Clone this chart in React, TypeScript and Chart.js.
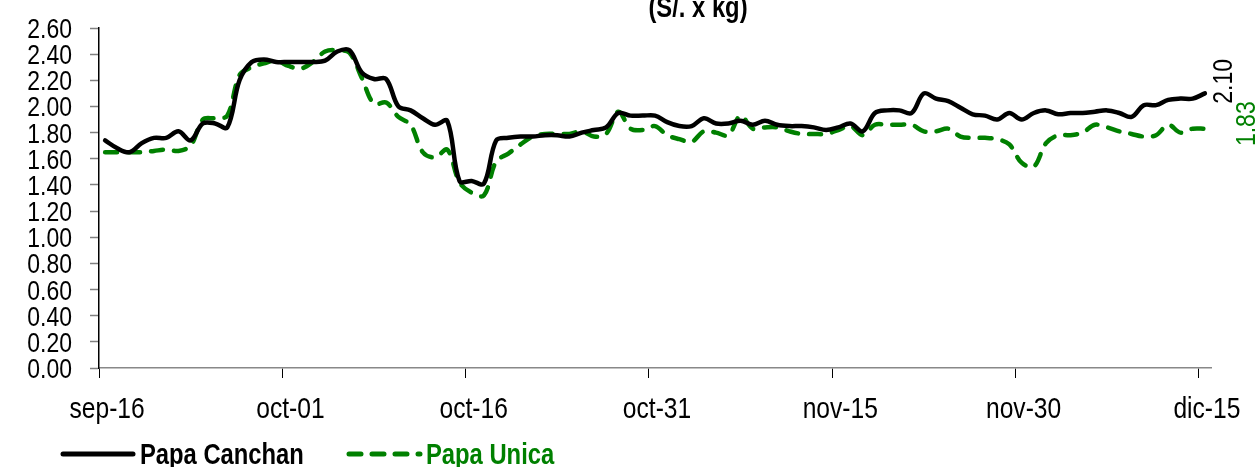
import React, { useEffect, useRef } from "react";
import { Chart, registerables } from "chart.js";
Chart.register(...registerables);

const FONT = "'Liberation Sans', Arial, sans-serif";
const NARROW = 0.82;

const monthSpans: [string, number, number][] = [
  ["sep", 16, 30],
  ["oct", 1, 31],
  ["nov", 1, 30],
  ["dic", 1, 15],
];
const dates: string[] = [];
for (const [m, s, e] of monthSpans) {
  for (let d = s; d <= e; d++) dates.push(`${m}-${String(d).padStart(2, "0")}`);
}
const shownDates = ["sep-16", "oct-01", "oct-16", "oct-31", "nov-15", "nov-30", "dic-15"];

const papaCanchan = [
  1.74, 1.68, 1.65, 1.72, 1.76, 1.76, 1.81, 1.74, 1.87, 1.87,
  1.84, 2.2, 2.34, 2.36, 2.34, 2.34, 2.34, 2.34, 2.35, 2.42,
  2.43, 2.26, 2.21, 2.21, 2.0, 1.97, 1.91, 1.86, 1.89, 1.43,
  1.43, 1.41, 1.74, 1.76, 1.77, 1.77, 1.78, 1.78, 1.77, 1.8,
  1.82, 1.84, 1.95, 1.93, 1.93, 1.93, 1.88, 1.85, 1.85, 1.91,
  1.87, 1.87, 1.89, 1.86, 1.89, 1.86, 1.85, 1.85, 1.84, 1.82,
  1.84, 1.87, 1.81, 1.95, 1.97, 1.97, 1.95, 2.1, 2.06, 2.04,
  1.99, 1.94, 1.93, 1.9, 1.95, 1.9, 1.95, 1.97, 1.94, 1.95,
  1.95, 1.96, 1.97, 1.95, 1.92, 2.01, 2.01, 2.05, 2.06, 2.06,
  2.1,
];

const papaUnica = [
  1.65, 1.65, 1.65, 1.65, 1.66, 1.67, 1.66, 1.7, 1.9, 1.91,
  1.93, 2.24, 2.3, 2.33, 2.35, 2.31, 2.29, 2.34, 2.42, 2.43,
  2.41, 2.22, 2.02, 2.03, 1.92, 1.86, 1.65, 1.61, 1.67, 1.42,
  1.34, 1.32, 1.58, 1.64, 1.71, 1.77, 1.79, 1.79, 1.79, 1.81,
  1.77, 1.79, 1.96, 1.83, 1.82, 1.85, 1.78, 1.75, 1.73, 1.81,
  1.8, 1.78, 1.93, 1.83, 1.84, 1.84, 1.81, 1.79, 1.79, 1.79,
  1.82, 1.85, 1.78, 1.86, 1.86, 1.86, 1.86, 1.81, 1.81, 1.83,
  1.77, 1.76, 1.76, 1.75, 1.71, 1.57, 1.54, 1.72, 1.78, 1.78,
  1.8, 1.86, 1.84, 1.81, 1.79, 1.77, 1.78, 1.86, 1.8, 1.83,
  1.83,
];

const seriesNames = ["Papa Canchan", "Papa Unica"];
const seriesColors = ["#000000", "#008000"];
const titleText = "(S/. x kg)";
const yMin = 0;
const yMax = 2.6;
const yStep = 0.2;

function narrowText(
  ctx: CanvasRenderingContext2D,
  text: string,
  x: number,
  y: number,
  font: string,
  color: string,
  align: CanvasTextAlign,
  rotation = 0
) {
  ctx.save();
  ctx.translate(x, y);
  if (rotation) ctx.rotate(rotation);
  ctx.scale(NARROW, 1);
  ctx.font = font;
  ctx.fillStyle = color;
  ctx.textAlign = align;
  ctx.textBaseline = "alphabetic";
  ctx.fillText(text, 0, 0);
  ctx.restore();
}

const overlayPlugin = {
  id: "overlay",
  afterDraw(chart: any) {
    const ctx: CanvasRenderingContext2D = chart.ctx;
    const yScale = chart.scales.y;
    const xScale = chart.scales.x;

    // y tick labels
    yScale.ticks.forEach((t: any) => {
      const py = yScale.getPixelForValue(t.value);
      narrowText(ctx, Number(t.value).toFixed(2), 72, py + 10, `28px ${FONT}`, "#000", "right");
    });

    // x tick labels
    dates.forEach((d, i) => {
      if (!shownDates.includes(d)) return;
      const px = xScale.getPixelForTick(i);
      narrowText(ctx, d, px + 2, 418, `30px ${FONT}`, "#000", "center");
    });

    // title
    narrowText(ctx, titleText, 698, 17, `bold 29px ${FONT}`, "#000", "center");

    // end value labels (rotated)
    const offs = [
      { dx: 27, dy: -12 },
      { dx: 50, dy: -5 },
    ];
    chart.data.datasets.forEach((ds: any, i: number) => {
      const meta = chart.getDatasetMeta(i);
      const last = meta.data[meta.data.length - 1];
      const val = ds.data[ds.data.length - 1];
      narrowText(
        ctx,
        val.toFixed(2),
        last.x + offs[i].dx,
        last.y + offs[i].dy,
        `28px ${FONT}`,
        seriesColors[i],
        "center",
        -Math.PI / 2
      );
    });

    // legend
    const items = [
      { x0: 63, x1: 133, tx: 140 },
      { x0: 349, x1: 420, tx: 426 },
    ];
    items.forEach((it, i) => {
      ctx.save();
      ctx.strokeStyle = seriesColors[i];
      ctx.lineWidth = 5;
      ctx.lineCap = "round";
      ctx.setLineDash(i === 1 ? [12, 11] : []);
      ctx.beginPath();
      ctx.moveTo(it.x0, 454);
      ctx.lineTo(it.x1, 454);
      ctx.stroke();
      ctx.restore();
      narrowText(ctx, seriesNames[i], it.tx, 464, `bold 29px ${FONT}`, seriesColors[i], "left");
    });
  },
};

export default function App() {
  const ref = useRef<HTMLCanvasElement | null>(null);
  useEffect(() => {
    if (!ref.current) return;
    const chart = new Chart(ref.current, {
      type: "line",
      data: {
        labels: dates,
        datasets: [
          {
            label: seriesNames[0],
            data: papaCanchan,
            borderColor: seriesColors[0],
            backgroundColor: seriesColors[0],
            borderWidth: 4.5,
            pointRadius: 0,
            tension: 0.35,
            borderCapStyle: "round",
            borderJoinStyle: "round",
          },
          {
            label: seriesNames[1],
            data: papaUnica,
            borderColor: seriesColors[1],
            backgroundColor: seriesColors[1],
            borderWidth: 4.5,
            pointRadius: 0,
            tension: 0.35,
            borderDash: [12, 11],
            borderCapStyle: "round",
            borderJoinStyle: "round",
          },
        ],
      },
      options: {
        responsive: false,
        animation: false,
        layout: { padding: { top: 28, right: 46, left: 0, bottom: 0 } },
        plugins: {
          legend: { display: false },
          title: { display: false },
          tooltip: { enabled: false },
        },
        scales: {
          x: {
            type: "category",
            offset: true,
            grid: {
              offset: true,
              drawOnChartArea: false,
              drawTicks: true,
              tickLength: 10,
              tickColor: (c: any) =>
                c.index !== undefined && c.index % 15 === 0 ? "#000" : "rgba(0,0,0,0)",
              tickWidth: 1,
            },
            border: { color: "#888", width: 1.5 },
            ticks: {
              autoSkip: false,
              maxRotation: 0,
              minRotation: 0,
              color: "rgba(0,0,0,0)",
              font: { family: FONT, size: 8 },
              callback: () => "",
            },
            afterFit: (s: any) => {
              s.height = 99;
            },
          },
          y: {
            min: yMin,
            max: yMax,
            grid: {
              drawOnChartArea: false,
              drawTicks: true,
              tickLength: 9,
              tickColor: "#808080",
              tickWidth: 1.5,
            },
            border: { color: "#000", width: 1.5 },
            ticks: {
              stepSize: yStep,
              autoSkip: false,
              color: "rgba(0,0,0,0)",
              font: { family: FONT, size: 2 },
              callback: (v: any) => Number(v).toFixed(2),
            },
            afterFit: (s: any) => {
              s.width = 99;
            },
          },
        },
      },
      plugins: [overlayPlugin],
    });
    return () => chart.destroy();
  }, []);
  return (
    <div style={{ position: "fixed", left: 0, top: 0, width: 1257, height: 467, background: "#fff" }}>
      <canvas ref={ref} width={1257} height={467} />
    </div>
  );
}
